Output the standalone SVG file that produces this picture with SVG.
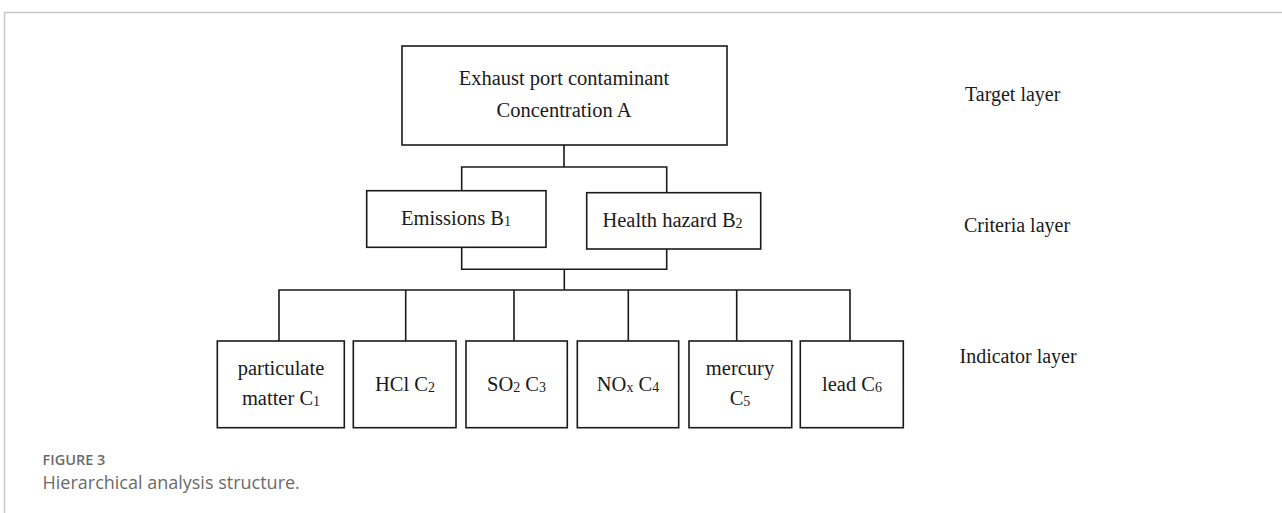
<svg xmlns="http://www.w3.org/2000/svg" width="1282" height="513" viewBox="0 0 1282 513">
<style>
.box{fill:#fff;stroke:#1a1a1a;stroke-width:1.6}
.t{font-family:"Liberation Serif","Times New Roman",serif;font-size:20.5px;fill:#1a1a1a;text-anchor:middle}
.lab{font-family:"Liberation Serif","Times New Roman",serif;font-size:20px;fill:#1a1a1a}
.sub{font-size:14px}
.conn{fill:none;stroke:#1a1a1a;stroke-width:1.6}
</style>
<rect width="1282" height="513" fill="#fff"/>
<path d="M4.5 513 V12.5 H1282" fill="none" stroke="#c8c8c8" stroke-width="1.5"/>
<g id="connectors" class="conn">
<path d="M564 145 V167 M461.7 191 V167 H666.7 V193"/>
<path d="M461.7 247 V269.3 H666.7 V249 M564.3 269.3 V290 M279 341 V290 H850 V341 M405.7 290 V341 M514 290 V341 M628.3 290 V341 M736.7 290 V341"/>
</g>
<g id="nodeA"><rect class="box" x="402" y="46" width="325" height="99"/>
<text class="t" x="564" y="85">Exhaust port contaminant</text>
<text class="t" x="564" y="116.5">Concentration A</text></g>
<g id="nodeB1"><rect class="box" x="366.7" y="190.7" width="179.3" height="56.6"/>
<text class="t" x="456" y="225">Emissions B<tspan class="sub" dy="1">1</tspan></text></g>
<g id="nodeB2"><rect class="box" x="586.7" y="192.7" width="174" height="56.3"/>
<text class="t" x="672.5" y="226.5">Health hazard B<tspan class="sub" dy="1">2</tspan></text></g>
<g id="nodeC1"><rect class="box" x="217.3" y="341" width="127" height="86.7"/>
<text class="t" x="281" y="375">particulate</text>
<text class="t" x="281" y="405">matter C<tspan class="sub" dy="1">1</tspan></text></g>
<g id="nodeC2"><rect class="box" x="353.3" y="341" width="102.7" height="86.7"/>
<text class="t" x="405" y="391">HCl C<tspan class="sub" dy="1">2</tspan></text></g>
<g id="nodeC3"><rect class="box" x="466" y="341" width="101.3" height="86.7"/>
<text class="t" x="516.5" y="391">SO<tspan class="sub" dy="1">2</tspan><tspan dy="-1"> C</tspan><tspan class="sub" dy="1">3</tspan></text></g>
<g id="nodeC4"><rect class="box" x="577.3" y="341" width="101.4" height="86.7"/>
<text class="t" x="628" y="391">NO<tspan class="sub" dy="1">x</tspan><tspan dy="-1"> C</tspan><tspan class="sub" dy="1">4</tspan></text></g>
<g id="nodeC5"><rect class="box" x="689" y="341" width="102.7" height="86.7"/>
<text class="t" x="740" y="375">mercury</text>
<text class="t" x="740" y="405">C<tspan class="sub" dy="1">5</tspan></text></g>
<g id="nodeC6"><rect class="box" x="800.3" y="341" width="103" height="86.7"/>
<text class="t" x="852" y="391">lead C<tspan class="sub" dy="1">6</tspan></text></g>
<g id="layers">
<text class="lab" x="965" y="100.5">Target layer</text>
<text class="lab" x="964" y="231.5">Criteria layer</text>
<text class="lab" x="959.5" y="362.5">Indicator layer</text>
</g>
<g id="caption">
<text x="42.5" y="465" font-family="'Open Sans',sans-serif" font-size="14.5" font-weight="600" fill="#6b6b6b">FIGURE 3</text>
<text x="42.5" y="488.5" font-family="'Open Sans',sans-serif" font-size="18" fill="#6b6b6b">Hierarchical analysis structure.</text>
</g>
</svg>
